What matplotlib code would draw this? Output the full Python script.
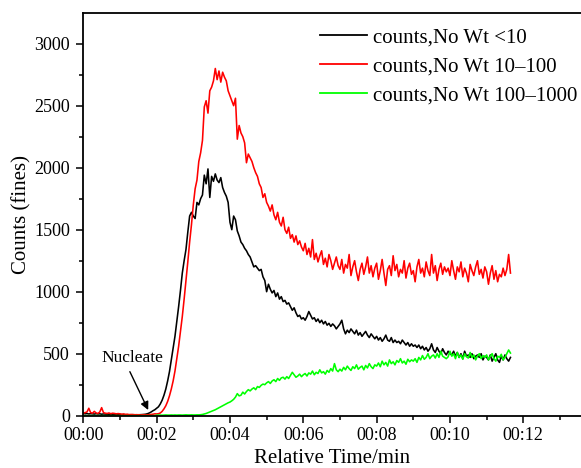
import numpy as np
import matplotlib
matplotlib.use("Agg")
import matplotlib.pyplot as plt
from matplotlib.ticker import MultipleLocator, FuncFormatter

plt.rcParams['font.family'] = ['Liberation Serif', 'DejaVu Serif']

# sample interval (min)
dt = 0.05

counts_lt10 = [
    18, 15, 17, 14, 16, 15, 13, 16, 14, 15, 12, 14, 13, 12, 11, 12, 10, 11, 10, 9,
    9, 8, 9, 8, 7, 8, 7, 8, 7, 8, 7, 8, 9, 10, 12, 16, 22, 30, 40, 48,
    60, 72, 95, 125, 165, 215, 280, 355, 450, 540, 640, 760, 880, 1010, 1150, 1250, 1340, 1480, 1610, 1640,
    1610, 1590, 1720, 1700, 1750, 1780, 1940, 1870, 1990, 1760, 1930, 1890, 1950, 1900, 1880, 1920, 1840, 1800, 1770, 1720,
    1560, 1500, 1610, 1580, 1490, 1450, 1400, 1380, 1350, 1330, 1300, 1280, 1240, 1200, 1210, 1190, 1170, 1180, 1120, 1090,
    1000, 1060, 1020, 990, 1010, 960, 990, 940, 960, 920, 930, 900, 910, 880, 850, 870, 830, 800, 810, 780,
    790, 770, 800, 840, 810, 780, 790, 760, 780, 750, 770, 740, 760, 730, 745, 720, 740, 725, 700, 720,
    740, 770, 700, 660, 690, 670, 700, 680, 660, 690, 650, 670, 640, 660, 680, 650, 630, 660, 640, 620,
    640, 610, 630, 600, 620, 650, 610, 600, 630, 590, 610, 590, 600, 580, 610, 590, 570, 590, 560, 580,
    560, 570, 550, 570, 540, 560, 530, 550, 520, 540, 580, 530, 510, 550, 520, 500, 540, 510, 490, 520,
    500, 490, 520, 480, 510, 470, 500, 460, 520, 480, 490, 470, 500, 460, 480, 490, 470, 500, 450, 480,
    470, 450, 490, 440, 470, 500, 450, 430, 480, 450, 490, 460, 440, 470,
]

counts_10_100 = [
    20, 25, 30, 60, 25, 20, 35, 22, 18, 30, 65, 25, 20, 18, 22, 16, 20, 18, 15, 17,
    15, 12, 14, 10, 12, 8, 10, 9, 8, 7, 8, 6, 7, 8, 6, 7, 8, 10, 12, 15,
    14, 16, 22, 35, 55, 80, 115, 160, 215, 280, 360, 460, 560, 680, 800, 940, 1090, 1240, 1400, 1540,
    1700, 1830, 1900, 2050, 2120, 2220, 2490, 2540, 2440, 2620, 2650, 2700, 2800, 2710, 2780, 2690, 2770, 2730, 2700, 2620,
    2580, 2540, 2500, 2560, 2230, 2340, 2280, 2250, 2200, 2040, 2110, 2080, 2050, 2000, 1960, 1930, 1870, 1840, 1760, 1790,
    1720, 1690, 1650, 1700, 1620, 1580, 1640, 1560, 1530, 1600, 1500, 1470, 1520, 1430, 1460, 1400, 1450, 1380, 1410, 1360,
    1330, 1390, 1300, 1350, 1280, 1420, 1260, 1310, 1240, 1290, 1330, 1220, 1270, 1200, 1300, 1250, 1180, 1230, 1280, 1210,
    1180, 1260, 1150, 1220, 1190, 1300, 1130, 1200, 1250, 1160, 1090, 1180, 1230, 1140, 1200, 1280, 1150, 1210, 1120, 1190,
    1230, 1100, 1170, 1260, 1150, 1050, 1180, 1210, 1130, 1290, 1170, 1220, 1120, 1180, 1150, 1250, 1110, 1190, 1230, 1140,
    1170, 1080, 1200, 1260, 1150, 1190, 1120, 1240, 1170, 1130, 1300, 1150, 1210, 1090, 1180, 1230, 1140, 1200, 1160, 1190,
    1130, 1250, 1170, 1100, 1200, 1160, 1240, 1120, 1190, 1150, 1080, 1220, 1170, 1130, 1200, 1250, 1140, 1180, 1110, 1200,
    1160, 1060, 1150, 1210, 1100, 1170, 1080, 1140, 1120, 1190, 1130, 1180, 1300, 1150,
]

counts_100_1000 = [
    0, 0, 0, 0, 0, 0, 0, 0, 0, 0, 0, 0, 0, 0, 0, 0, 0, 0, 0, 0,
    0, 0, 0, 0, 0, 0, 0, 0, 0, 0, 0, 0, 0, 0, 0, 0, 0, 0, 0, 0,
    4, 5, 5, 4, 5, 6, 5, 5, 6, 5, 6, 5, 6, 6, 5, 6, 7, 6, 6, 7,
    6, 6, 7, 7, 8, 10, 14, 18, 24, 30, 36, 42, 48, 56, 64, 72, 80, 88, 96, 104,
    110, 120, 132, 150, 178, 160, 165, 190, 175, 195, 210, 200, 215, 225, 210, 235, 228, 245, 255, 250,
    265, 275, 260, 280, 290, 275, 300, 285, 305, 310, 295, 315, 300, 325, 350, 330, 310, 320, 335, 315,
    330, 340, 320, 345, 335, 360, 330, 350, 340, 370, 345, 355, 335, 365, 350, 380, 360, 420, 370, 355,
    375, 360, 390, 370, 400, 380, 365, 395, 380, 410, 375, 390, 400, 370, 405, 385, 420, 395, 380, 410,
    400, 425, 395, 440, 410, 430, 400, 450, 420, 435, 410, 445, 430, 460, 425, 440, 415, 455, 435, 450,
    440, 460, 430, 470, 450, 485, 455, 470, 500, 460, 480, 490, 465, 500, 470, 520, 480, 470, 460, 475,
    520, 480, 500, 460, 510, 470, 490, 455, 500, 475, 465, 510, 470, 490, 450, 480, 500, 460, 485, 470,
    490, 450, 480, 500, 460, 440, 480, 470, 495, 450, 470, 500, 530, 505,
]

series_labels = ["counts,No Wt <10", "counts,No Wt 10\u2013100", "counts,No Wt 100\u20131000"]
series_colors = ["#000000", "#ff0000", "#00ff00"]
series_values = [counts_lt10, counts_10_100, counts_100_1000]

fig = plt.figure(figsize=(5.81, 4.68), dpi=100)
ax = fig.add_axes([83.3 / 581, (468 - 415.7) / 468, (580.5 - 83.3) / 581, (415.7 - 13.3) / 468])

for vals, lab, col in zip(series_values, series_labels, series_colors):
    t = np.arange(len(vals)) * dt
    ax.plot(t, vals, color=col, lw=1.15, label=lab)

ax.set_xlim(0, 13.56)
ax.set_ylim(0, 3245)
ax.xaxis.set_major_locator(MultipleLocator(2))
ax.xaxis.set_minor_locator(MultipleLocator(1))
ax.yaxis.set_major_locator(MultipleLocator(500))
ax.yaxis.set_minor_locator(MultipleLocator(250))
ax.xaxis.set_major_formatter(FuncFormatter(lambda v, p: "00:%02d" % int(round(v))))

ax.tick_params(which='major', direction='out', length=5, width=1.1, labelsize=13)
ax.tick_params(axis='x', which='major', pad=3)
ax.tick_params(axis='y', which='major', pad=4.5)
ax.tick_params(which='minor', direction='out', length=3, width=1.1)
ax.tick_params(top=False, right=False, which='both')
for s in ['left', 'bottom', 'top']:
    ax.spines[s].set_linewidth(1.3)
ax.spines['right'].set_visible(False)

ax.set_xlabel("Relative Time/min", fontsize=15, labelpad=3.5)
ax.set_ylabel("Counts (fines)", fontsize=15, labelpad=2)

ax.annotate("", xy=(1.77, 46), xytext=(1.27, 355),
            arrowprops=dict(arrowstyle='-|>', color='black', lw=1.0, mutation_scale=12,
                            shrinkA=0, shrinkB=0))
ax.text(1.34, 463, "Nucleate", fontsize=12.5, ha='center', va='center')

leg = ax.legend(loc='upper left', bbox_to_anchor=(320 / 581, 1 - 28 / 468),
                bbox_transform=fig.transFigure, frameon=False, fontsize=15,
                borderpad=0, borderaxespad=0, handlelength=2.26, handletextpad=0.29,
                labelspacing=0.44)
for line in leg.get_lines():
    line.set_linewidth(1.3)

fig.savefig("out.png", dpi=100)
